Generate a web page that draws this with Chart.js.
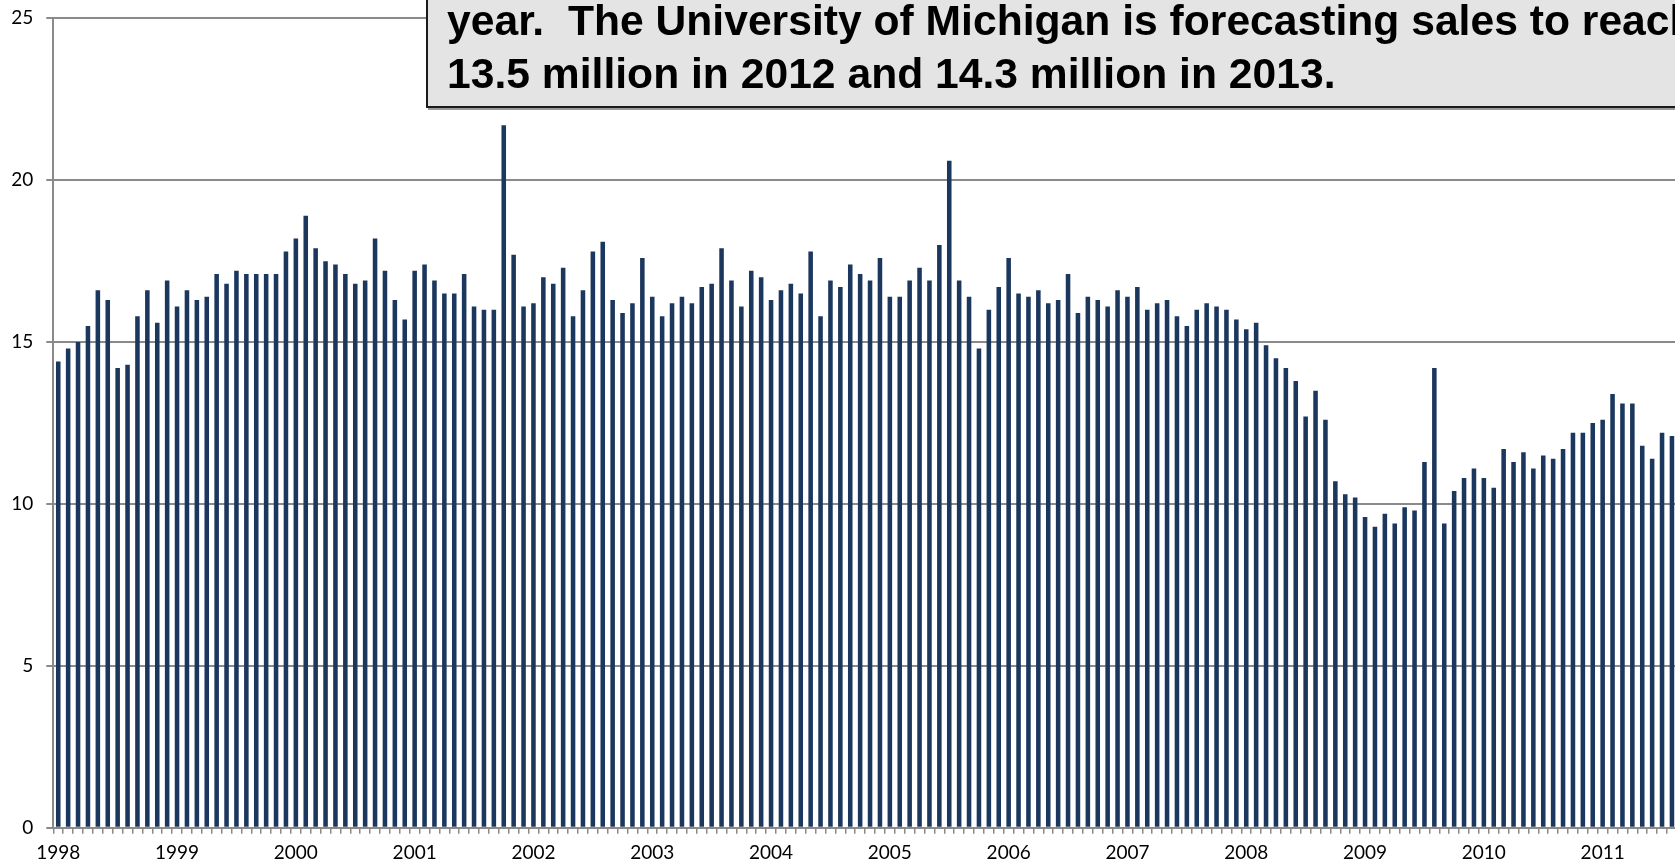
<!DOCTYPE html>
<html>
<head>
<meta charset="utf-8">
<script src="https://cdn.jsdelivr.net/npm/chart.js"></script>
<style>
    html, body { margin: 0; padding: 0; background: #fff; overflow: hidden; }
    #wrap { position: relative; width: 1675px; height: 865px; overflow: hidden; }
    #chart { position: absolute; left: 0; top: 0; }
    #note {
        position: absolute; left: 426px; top: -80px; width: 1400px; height: 184px;
        background: #e4e4e4; border: 2px solid #1a1a1a; box-shadow: 2px 2px 0 #9a9a9a;
    }
    .line {
        position: absolute; left: 447px; white-space: pre;
        font-family: "Liberation Sans", Arial, sans-serif; font-weight: bold;
        font-size: 42px; line-height: 42px; color: #000;
        transform: scaleX(1.015); transform-origin: left top;
    }
</style>
</head>
<body>
<div id="wrap">
    <canvas id="chart" width="1760" height="865"></canvas>
    <div id="note"></div>
    <div class="line" style="top:-0.5px">year.  The University of Michigan is forecasting sales to reach</div>
    <div class="line" style="top:53px">13.5 million in 2012 and 14.3 million in 2013.</div>
</div>
<script>
"use strict";

// US light vehicle sales, millions (seasonally adjusted annual rate), monthly
const years = [1998, 1999, 2000, 2001, 2002, 2003, 2004, 2005, 2006, 2007, 2008, 2009, 2010, 2011];
const sales1998 = [14.4, 14.8, 15.0, 15.5, 16.6, 16.3, 14.2, 14.3, 15.8, 16.6, 15.6, 16.9];
const sales1999 = [16.1, 16.6, 16.3, 16.4, 17.1, 16.8, 17.2, 17.1, 17.1, 17.1, 17.1, 17.8];
const sales2000 = [18.2, 18.9, 17.9, 17.5, 17.4, 17.1, 16.8, 16.9, 18.2, 17.2, 16.3, 15.7];
const sales2001 = [17.2, 17.4, 16.9, 16.5, 16.5, 17.1, 16.1, 16.0, 16.0, 21.7, 17.7, 16.1];
const sales2002 = [16.2, 17.0, 16.8, 17.3, 15.8, 16.6, 17.8, 18.1, 16.3, 15.9, 16.2, 17.6];
const sales2003 = [16.4, 15.8, 16.2, 16.4, 16.2, 16.7, 16.8, 17.9, 16.9, 16.1, 17.2, 17.0];
const sales2004 = [16.3, 16.6, 16.8, 16.5, 17.8, 15.8, 16.9, 16.7, 17.4, 17.1, 16.9, 17.6];
const sales2005 = [16.4, 16.4, 16.9, 17.3, 16.9, 18.0, 20.6, 16.9, 16.4, 14.8, 16.0, 16.7];
const sales2006 = [17.6, 16.5, 16.4, 16.6, 16.2, 16.3, 17.1, 15.9, 16.4, 16.3, 16.1, 16.6];
const sales2007 = [16.4, 16.7, 16.0, 16.2, 16.3, 15.8, 15.5, 16.0, 16.2, 16.1, 16.0, 15.7];
const sales2008 = [15.4, 15.6, 14.9, 14.5, 14.2, 13.8, 12.7, 13.5, 12.6, 10.7, 10.3, 10.2];
const sales2009 = [9.6, 9.3, 9.7, 9.4, 9.9, 9.8, 11.3, 14.2, 9.4, 10.4, 10.8, 11.1];
const sales2010 = [10.8, 10.5, 11.7, 11.3, 11.6, 11.1, 11.5, 11.4, 11.7, 12.2, 12.2, 12.5];
const sales2011 = [12.6, 13.4, 13.1, 13.1, 11.8, 11.4, 12.2, 12.1, null, null, null, null]; // rest is cut off
const yTicks = [0, 5, 10, 15, 20, 25];

const sales = [].concat(sales1998, sales1999, sales2000, sales2001, sales2002, sales2003, sales2004,
    sales2005, sales2006, sales2007, sales2008, sales2009, sales2010, sales2011);
// one category per month, year printed under January
const monthLabels = [];
years.forEach(y => { for (let m = 0; m < 12; m++) monthLabels.push(m === 0 ? String(y) : ""); });

const tickFont = { family: "Lato, 'Open Sans', sans-serif", size: 19 };
const gray = "#8a8a8a";

new Chart(document.getElementById("chart"), {
    type: "bar",
    data: {
        labels: monthLabels,
        datasets: [{
            data: sales,
            backgroundColor: "#1c375e",
            borderWidth: 0,
            barPercentage: 0.46,
            categoryPercentage: 1
        }]
    },
    options: {
        responsive: false,
        animation: false,
        layout: { padding: { top: 18.3, right: 43.5, bottom: 0, left: 0 } },
        plugins: { legend: { display: false }, tooltip: { enabled: false } },
        scales: {
            x: {
                grid: { drawOnChartArea: false, tickLength: 6, color: gray, lineWidth: 1.5 },
                border: { color: gray, width: 2 },
                ticks: { autoSkip: false, maxRotation: 0, padding: 8, color: "#000", font: tickFont },
                afterFit: scale => { scale.height = 37.2; }
            },
            y: {
                min: 0,
                max: 25,
                afterBuildTicks: scale => { scale.ticks = yTicks.map(v => ({ value: v })); },
                ticks: { padding: 13, color: "#000", font: tickFont },
                grid: { color: gray, lineWidth: 2, tickLength: 7 },
                border: { color: gray, width: 2 },
                afterFit: scale => {
                    scale.width = 53.3;
                    // tick padding would otherwise push the plot top down
                    scale.paddingTop = 10;
                    scale.paddingBottom = 10;
                }
            }
        }
    }
});
</script>
</body>
</html>
